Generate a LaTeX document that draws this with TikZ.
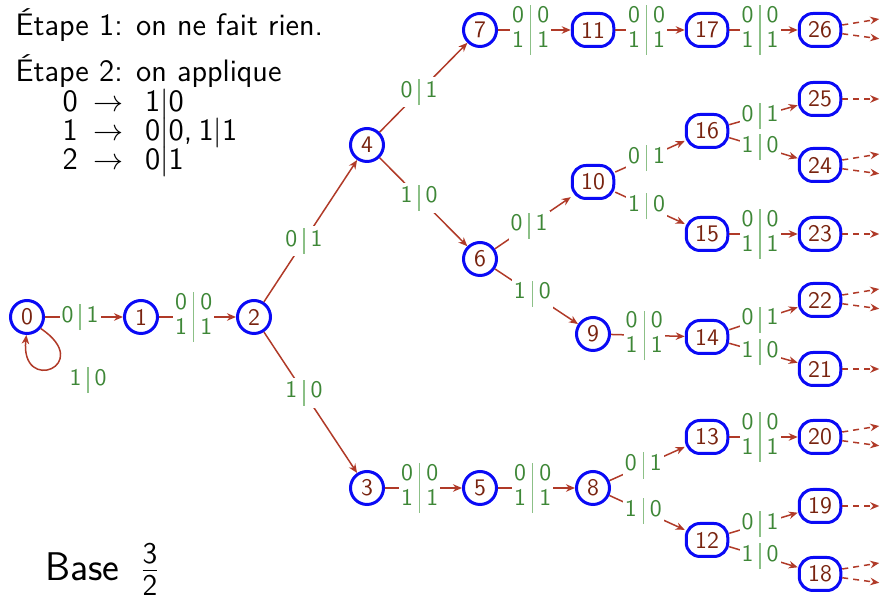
\documentclass[tikz,border=0pt]{standalone}
\usepackage{fontspec}
\usepackage{array}
\usetikzlibrary{arrows.meta}
\renewcommand{\familydefault}{\sfdefault}
\definecolor{nodeblue}{RGB}{10,10,245}
\definecolor{numred}{RGB}{120,35,15}
\definecolor{edgered}{RGB}{176,58,40}
\definecolor{lblgreen}{RGB}{62,135,55}
\definecolor{bargreen}{RGB}{140,192,135}
\newcommand{\lone}[2]{{\setlength{\tabcolsep}{2.4pt}\renewcommand{\arraystretch}{0.95}\begin{tabular}{@{}c!{\color{bargreen}\vrule width 0.5pt}c@{}}#1&#2\end{tabular}}}
\newcommand{\ltwo}{{\setlength{\tabcolsep}{2.4pt}\renewcommand{\arraystretch}{0.9}\begin{tabular}{@{}c!{\color{bargreen}\vrule width 0.5pt}c@{}}0&0\\1&1\end{tabular}}}
\newcommand{\mybar}{$|$}
\newcommand{\sdig}[1]{\hbox{\fontsize{12}{14}\selectfont #1}}
\tikzset{
  st/.style={draw=nodeblue, line width=1.2pt, text=numred, font=\fontsize{9.5}{11}\selectfont, inner sep=0pt},
  one/.style={st, circle, minimum size=13.2pt},
  two/.style={st, rectangle, rounded corners=5.5pt, minimum width=16.6pt, minimum height=13.2pt},
  tr/.style={draw=edgered, line width=0.6pt, -{Stealth[length=3.6pt,width=3pt]}},
  lbl/.style={fill=white, text=lblgreen, inner sep=0.8pt, font=\fontsize{9.5}{11}\selectfont, pos=0.45},
  lbltext/.style={text=lblgreen, inner sep=0.8pt, font=\fontsize{9.5}{11}\selectfont},
  more/.style={tr, dash pattern=on 2.4pt off 2pt},
  txt/.style={anchor=base west, inner sep=0pt, font=\fontsize{12.4}{14}\selectfont}
}
\begin{document}
\begin{tikzpicture}[x=0.4pt,y=-0.4pt]
\useasboundingbox (0,0) rectangle (881,597);
% texts
\node[txt] (t1) at (15,36) {Étape 1: on ne fait rien.};
\node[txt] (t2) at (15,82) {Étape 2: on applique};
\node[txt] (r1) at (62,112) {0\hspace{6.5pt}$\rightarrow$\hspace{8.5pt}1\mybar0};
\node[txt] (r2) at (62,141) {1\hspace{6.5pt}$\rightarrow$\hspace{8.5pt}0\mybar0,\hspace{2.5pt}1\mybar1};
\node[txt] (r3) at (62,170) {2\hspace{6.5pt}$\rightarrow$\hspace{8.5pt}0\mybar1};
\node[anchor=base west, inner sep=0pt, font=\fontsize{16}{19}\selectfont] (base) at (45,581) {Base\hspace{0.5em}$\frac{\sdig{3}}{\sdig{2}}$};
% nodes
\node[one] (n0) at (27,317) {0};
\node[one] (n1) at (141,317) {1};
\node[one] (n2) at (254,317) {2};
\node[one] (n3) at (367,488) {3};
\node[one] (n4) at (367,145) {4};
\node[one] (n5) at (480,488) {5};
\node[one] (n6) at (480,259) {6};
\node[one] (n7) at (480,30) {7};
\node[one] (n8) at (593,488) {8};
\node[one] (n9) at (593,334) {9};
\node[two] (n10) at (593,182) {10};
\node[two] (n11) at (593,30) {11};
\node[two] (n12) at (707,540) {12};
\node[two] (n13) at (707,437) {13};
\node[two] (n14) at (707,337) {14};
\node[two] (n15) at (707,234) {15};
\node[two] (n16) at (707,131) {16};
\node[two] (n17) at (707,30) {17};
\node[two] (n18) at (820,574) {18};
\node[two] (n19) at (820,506) {19};
\node[two] (n20) at (820,437) {20};
\node[two] (n21) at (820,369) {21};
\node[two] (n22) at (820,300) {22};
\node[two] (n23) at (820,234) {23};
\node[two] (n24) at (820,165) {24};
\node[two] (n25) at (820,99) {25};
\node[two] (n26) at (820,30) {26};
% edges
\draw[tr] (n0) -- node[lbl] {\lone01} (n1);
\draw[tr] (n0.-40) .. controls (95,365) and (20,395) .. (n0.-92);
\node[lbltext] (l00) at (88,380) {\lone10};
\draw[tr] (n1) -- node[lbl] {\ltwo} (n2);
\draw[tr] (n2) -- node[lbl,pos=0.43] {\lone01} (n4);
\draw[tr] (n2) -- node[lbl,pos=0.43] {\lone10} (n3);
\draw[tr] (n4) -- node[lbl] {\lone01} (n7);
\draw[tr] (n4) -- node[lbl] {\lone10} (n6);
\draw[tr] (n3) -- node[lbl] {\ltwo} (n5);
\draw[tr] (n5) -- node[lbl] {\ltwo} (n8);
\draw[tr] (n7) -- node[lbl] {\ltwo} (n11);
\draw[tr] (n11) -- node[lbl] {\ltwo} (n17);
\draw[tr] (n17) -- node[lbl] {\ltwo} (n26);
\draw[tr] (n6) -- node[lbl] {\lone01} (n10);
\draw[tr] (n6) -- node[lbl] {\lone10} (n9);
\draw[tr] (n10) -- node[lbl] {\lone01} (n16);
\draw[tr] (n10) -- node[lbl] {\lone10} (n15);
\draw[tr] (n16) -- node[lbl] {\lone01} (n25);
\draw[tr] (n16) -- node[lbl] {\lone10} (n24);
\draw[tr] (n15) -- node[lbl] {\ltwo} (n23);
\draw[tr] (n9) -- node[lbl] {\ltwo} (n14);
\draw[tr] (n14) -- node[lbl] {\lone01} (n22);
\draw[tr] (n14) -- node[lbl] {\lone10} (n21);
\draw[tr] (n8) -- node[lbl] {\lone01} (n13);
\draw[tr] (n8) -- node[lbl] {\lone10} (n12);
\draw[tr] (n13) -- node[lbl] {\ltwo} (n20);
\draw[tr] (n12) -- node[lbl] {\lone01} (n19);
\draw[tr] (n12) -- node[lbl] {\lone10} (n18);
% continuing arrows
\foreach \n in {26,24,22,20,18} {
  \draw[more] ([yshift=2pt]n\n.east) -- ++(37,-6);
  \draw[more] ([yshift=-1.5pt]n\n.east) -- ++(37,5);
}
\foreach \n in {25,23,21,19} {
  \draw[more] (n\n.east) -- ++(37,0);
}
\end{tikzpicture}
\end{document}
